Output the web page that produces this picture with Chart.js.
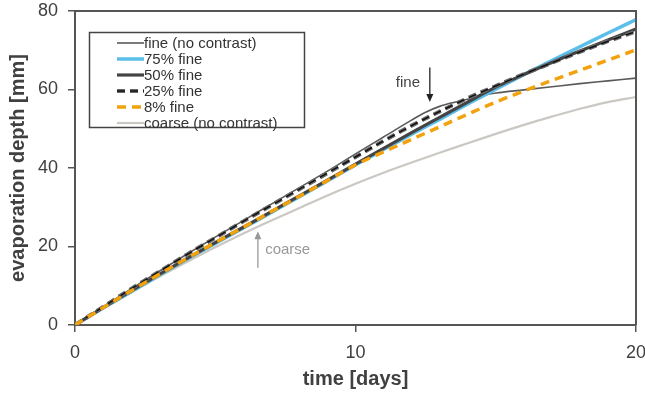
<!DOCTYPE html>
<html>
<head>
<meta charset="utf-8">
<script src="https://cdn.jsdelivr.net/npm/chart.js@4.4.1/dist/chart.umd.min.js"></script>
<style>
  html, body { margin: 0; padding: 0; background: #fff; }
  #caixa { width: 645px; height: 396px; overflow: hidden; }
</style>
</head>
<body>
<div id="caixa"><canvas id="grafico" width="660" height="396"></canvas></div>
<script>
// dias (eixo x)
const dias = [0, 1, 2, 3, 4, 5, 6, 7, 8, 9, 10, 11, 12, 13, 14, 15, 16, 17, 18, 19, 20];
const diasFino = [0, 1, 2, 3, 4, 5, 6, 7, 8, 9, 10, 11, 12, 12.5, 13, 13.5, 14, 14.5, 15, 16, 17, 18, 19, 20];

// profundidade de evaporação [mm]
const finoSemContraste = [0, 4.6, 9.2, 13.7, 18.1, 22.4, 26.6, 30.8, 35.0, 39.2, 43.6, 47.9, 52.2, 54.2, 55.7, 56.7, 57.5, 58.4, 59.1, 59.9, 60.7, 61.5, 62.2, 62.9];
const fino75 = [0, 4.3, 8.5, 12.7, 16.8, 20.8, 24.7, 28.7, 32.7, 36.7, 40.8, 44.7, 48.6, 52.4, 56.3, 60.1, 63.8, 67.4, 70.9, 74.4, 77.8];
const fino50 = [0, 4.4, 8.7, 12.9, 17.0, 21.0, 24.9, 28.9, 32.9, 36.9, 41.0, 45.0, 49.0, 52.9, 56.8, 60.6, 63.8, 66.9, 69.8, 72.6, 75.4];
const fino25 = [0, 4.6, 9.2, 13.6, 18.0, 22.2, 26.4, 30.5, 34.6, 38.7, 42.8, 46.9, 50.8, 54.4, 57.8, 60.9, 63.9, 66.8, 69.6, 72.3, 74.8];
const fino8 = [0, 4.4, 8.7, 12.9, 17.0, 21.0, 24.9, 28.9, 32.8, 36.8, 40.8, 44.1, 47.3, 50.5, 53.7, 56.8, 59.6, 62.3, 64.9, 67.5, 70.1];
const grossoSemContraste = [0, 4.2, 8.3, 12.3, 16.1, 19.8, 23.3, 26.6, 29.8, 33.0, 36.0, 38.8, 41.4, 43.9, 46.3, 48.7, 51.0, 53.1, 55.1, 56.8, 58.1];

const ticksX = [0, 10, 20];
const ticksY = [0, 20, 40, 60, 80];

const FONTE = '"Liberation Sans", Arial, sans-serif';

function pontos(xs, ys) {
  return xs.map((x, i) => ({ x: x, y: ys[i] }));
}

// setas e textos "fine" / "coarse"
const anotacoesPlugin = {
  id: 'anotacoes',
  afterDatasetsDraw(chart) {
    const ctx = chart.ctx;
    const sx = chart.scales.x, sy = chart.scales.y;
    const seta = (x, y0, y1, cor) => {
      const px = sx.getPixelForValue(x);
      const p0 = sy.getPixelForValue(y0), p1 = sy.getPixelForValue(y1);
      const dir = p1 > p0 ? 1 : -1;
      ctx.strokeStyle = cor; ctx.fillStyle = cor; ctx.lineWidth = 1.3;
      ctx.beginPath(); ctx.moveTo(px, p0); ctx.lineTo(px, p1 - dir * 5); ctx.stroke();
      ctx.beginPath(); ctx.moveTo(px, p1); ctx.lineTo(px - 3.5, p1 - dir * 8); ctx.lineTo(px + 3.5, p1 - dir * 8); ctx.closePath(); ctx.fill();
    };
    ctx.save();
    seta(12.65, 65.6, 56.8, '#222');
    seta(6.52, 14.6, 23.9, '#999');
    ctx.font = '15px ' + FONTE;
    ctx.textBaseline = 'middle';
    ctx.fillStyle = '#444';
    ctx.textAlign = 'right';
    ctx.fillText('fine', sx.getPixelForValue(12.3), sy.getPixelForValue(61.6));
    ctx.fillStyle = '#999';
    ctx.textAlign = 'left';
    ctx.fillText('coarse', sx.getPixelForValue(6.78), sy.getPixelForValue(19.1));
    ctx.restore();
  }
};

// moldura superior e direita
const molduraPlugin = {
  id: 'moldura',
  afterDraw(chart) {
    const { ctx, chartArea: a } = chart;
    ctx.save();
    ctx.strokeStyle = '#555'; ctx.lineWidth = 2;
    ctx.beginPath();
    ctx.moveTo(a.left, a.top); ctx.lineTo(a.right, a.top); ctx.lineTo(a.right, a.bottom);
    ctx.stroke();
    ctx.restore();
  }
};

// legenda dentro da área do gráfico
const legendaPlugin = {
  id: 'legenda',
  afterDraw(chart) {
    const ctx = chart.ctx;
    ctx.save();
    ctx.fillStyle = '#fff';
    ctx.fillRect(89, 32, 215, 95);
    ctx.strokeStyle = '#444'; ctx.lineWidth = 1.5;
    ctx.strokeRect(89.5, 32.5, 215, 95);
    ctx.font = '15px ' + FONTE;
    ctx.textBaseline = 'middle';
    ctx.textAlign = 'left';
    let linha = -1;
    chart.data.datasets.forEach(d => {
      if (!d.semLegenda) linha++;
      const y = 43 + linha * 16;
      ctx.strokeStyle = d.borderColor;
      ctx.lineWidth = d.borderWidth;
      ctx.setLineDash(d.borderDash || []);
      ctx.beginPath(); ctx.moveTo(117, y); ctx.lineTo(144, y); ctx.stroke();
      ctx.setLineDash([]);
      if (!d.semLegenda) {
        ctx.fillStyle = '#333';
        ctx.fillText(d.label, 144, y + 0.5);
      }
    });
    ctx.restore();
  }
};

const ctx = document.getElementById('grafico').getContext('2d');
new Chart(ctx, {
  type: 'line',
  data: {
    datasets: [
      { label: 'fine (no contrast)', data: pontos(diasFino, finoSemContraste), borderColor: '#5a5a5a', borderWidth: 1.6, order: 6 },
      { label: '75% fine', data: pontos(dias, fino75), borderColor: '#5bbfea', borderWidth: 3.5, order: 5 },
      { label: '50% fine', data: pontos(dias, fino50), borderColor: '#444444', borderWidth: 3.2, order: 4 },
      { label: '25% fine', data: pontos(dias, fino25), borderColor: '#6a6a6a', borderWidth: 4, borderDash: [8, 5], order: 3 },
      { label: '25% fine', data: pontos(dias, fino25), borderColor: '#111111', borderWidth: 1.5, borderDash: [8, 5], order: 2, semLegenda: true },
      { label: '8% fine', data: pontos(dias, fino8), borderColor: '#f2a20c', borderWidth: 3.5, borderDash: [9, 6], order: 1 },
      { label: 'coarse (no contrast)', data: pontos(dias, grossoSemContraste), borderColor: '#cbc7c3', borderWidth: 2.2, order: 7 }
    ]
  },
  options: {
    responsive: false,
    animation: false,
    elements: {
      point: { radius: 0 },
      line: { cubicInterpolationMode: 'monotone', fill: false }
    },
    layout: { padding: { top: 11, right: 24, left: 0, bottom: 0 } },
    plugins: {
      legend: { display: false },
      tooltip: { enabled: false }
    },
    scales: {
      x: {
        type: 'linear',
        min: 0, max: 20,
        afterBuildTicks: s => { s.ticks = ticksX.map(v => ({ value: v })); },
        afterFit: s => { s.height = 71; s.paddingLeft = 0; s.paddingRight = 0; },
        border: { display: true, color: '#555', width: 2 },
        grid: { display: true, drawOnChartArea: false, drawTicks: true, tickLength: 7, color: '#555', lineWidth: 1.5 },
        ticks: { color: '#404040', font: { family: FONTE, size: 18 }, padding: 10, maxRotation: 0 },
        title: { display: true, text: 'time [days]', color: '#404040', font: { family: FONTE, size: 20, weight: 'bold' }, padding: { top: 0, bottom: 5 } }
      },
      y: {
        type: 'linear',
        min: 0, max: 80,
        afterBuildTicks: s => { s.ticks = ticksY.map(v => ({ value: v })); },
        afterFit: s => { s.width = 75; s.paddingTop = 0; s.paddingBottom = 0; },
        border: { display: true, color: '#555', width: 2 },
        grid: { display: true, drawOnChartArea: false, drawTicks: true, tickLength: 7, color: '#555', lineWidth: 1.5 },
        ticks: { color: '#404040', font: { family: FONTE, size: 18 }, padding: 10 },
        title: { display: true, text: 'evaporation depth [mm]', color: '#404040', font: { family: FONTE, size: 20, weight: 'bold' }, padding: { top: 6, bottom: 0 } }
      }
    }
  },
  plugins: [anotacoesPlugin, molduraPlugin, legendaPlugin]
});
</script>
</body>
</html>
